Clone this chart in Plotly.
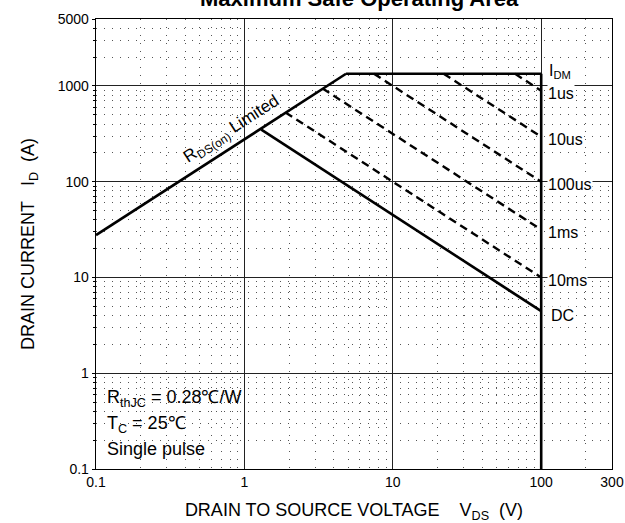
import math
import plotly.graph_objects as go

# ---------------- data ----------------
rds_v = [0.1, 4.84]
rds_i = [27.7, 1340]
idm_v = [4.84, 100]
idm_i = [1340, 1340]
vmax_v = [100, 100]
vmax_i = [1340, 0.1]
dc_v = [1.3, 100]
dc_i = [350, 4.45]

pulse_labels = ["1us", "10us", "100us", "1ms", "10ms"]
pulse_v_start = [66.7, 22.0, 7.46, 3.36, 1.89]
pulse_i_start = [1340, 1340, 1340, 940, 529]
pulse_v_end = [100, 100, 100, 100, 100]
pulse_i_end = [890, 295, 100, 31.6, 10.0]

x_ticks = [0.1, 1, 10, 100, 300]
x_ticktext = ["0.1", "1", "10", "100", "300"]
y_ticks = [0.1, 1, 10, 100, 1000, 5000]
y_ticktext = ["0.1", "1", "10", "100", "1000", "5000"]

info_lines = ["R<sub>thJC</sub> = 0.28\u2103/W", "T<sub>C</sub> = 25\u2103", "Single pulse"]

FONT = "Arial, 'Liberation Sans', sans-serif"
W, H = 625, 523
ML, MR, MT, MB = 96, 13, 19, 54
PW, PH = W - ML - MR, H - MT - MB

fig = go.Figure()

solid = dict(color="black", width=2.6)
dashed = dict(color="black", width=2.4, dash="8px,5px")

for v, i in [(rds_v, rds_i), (idm_v, idm_i), (vmax_v, vmax_i), (dc_v, dc_i)]:
    fig.add_trace(go.Scatter(x=v, y=i, mode="lines", line=solid, hoverinfo="skip"))

for k in range(len(pulse_labels)):
    fig.add_trace(go.Scatter(x=[pulse_v_start[k], pulse_v_end[k]],
                             y=[pulse_i_start[k], pulse_i_end[k]],
                             mode="lines", line=dashed, hoverinfo="skip"))

anns = []
for k, lab in enumerate(pulse_labels):
    anns.append(dict(x=math.log10(pulse_v_end[k]), y=math.log10(pulse_i_end[k]),
                     xref="x", yref="y", text=lab, showarrow=False,
                     xanchor="left", yanchor="middle", xshift=6, yshift=-3,
                     bgcolor="white", borderpad=0,
                     font=dict(family=FONT, size=16, color="black")))
anns.append(dict(x=math.log10(dc_v[-1]), y=math.log10(dc_i[-1]), xref="x", yref="y",
                 text="DC", showarrow=False, xanchor="left", yanchor="middle",
                 xshift=9, yshift=-4, bgcolor="white", borderpad=0,
                 font=dict(family=FONT, size=16, color="black")))
anns.append(dict(x=math.log10(idm_v[-1]), y=math.log10(idm_i[-1]), xref="x", yref="y",
                 text="I<sub>DM</sub>", showarrow=False, xanchor="left", yanchor="middle",
                 xshift=7, yshift=2, bgcolor="white", borderpad=0,
                 font=dict(family=FONT, size=16, color="black")))

xr = [-1, math.log10(300)]
yr = [-1, math.log10(5000)]
px_per_dec_x = PW / (xr[1] - xr[0])
px_per_dec_y = PH / (yr[1] - yr[0])
ang = math.degrees(math.atan(px_per_dec_y / px_per_dec_x))
anns.append(dict(x=math.log10(0.82), y=math.log10(350), xref="x", yref="y",
                 text="R<sub>DS(on)</sub> Limited", showarrow=False, textangle=-ang,
                 font=dict(family=FONT, size=17, color="black")))

for j, (t, py) in enumerate(zip(info_lines, [398, 424, 449])):
    anns.append(dict(x=(105 - ML) / PW, y=1 - (py - MT) / PH, xref="paper", yref="paper",
                     text=t, showarrow=False, xanchor="left", yanchor="middle",
                     font=dict(family=FONT, size=18, color="black")))

anns.append(dict(x=0.51, y=1 + (MT + 2) / PH, xref="paper", yref="paper",
                 text="<b>Maximum Safe Operating Area</b>", showarrow=False,
                 xanchor="center", yanchor="middle",
                 font=dict(family=FONT, size=22, color="black")))

shapes = [dict(type="rect", xref="paper", yref="paper", layer="between",
               x0=2 / PW, x1=(243 - ML) / PW,
               y0=1 - (465 - MT) / PH, y1=1 - (380 - MT) / PH,
               fillcolor="white", line=dict(width=0))]

minor_common = dict(dtick="D1", showgrid=True, gridcolor="#555",
                    griddash="1px,7px", gridwidth=1)

fig.update_xaxes(type="log", range=xr, tickmode="array", tickvals=x_ticks,
                 ticktext=x_ticktext, showgrid=True, gridcolor="#222", gridwidth=1,
                 showline=True, linecolor="black", linewidth=1.3, mirror=True,
                 ticks="", zeroline=False, automargin=False,
                 tickfont=dict(family=FONT, size=14, color="black"),
                 minor=dict(**minor_common),
                 title=dict(text="DRAIN TO SOURCE VOLTAGE\u00a0\u00a0\u00a0\u00a0V<sub>DS</sub>\u00a0\u00a0(V)",
                            font=dict(family=FONT, size=18, color="black"), standoff=21))
fig.update_yaxes(type="log", range=yr, tickmode="array", tickvals=y_ticks,
                 ticktext=y_ticktext, showgrid=True, gridcolor="#222", gridwidth=1,
                 showline=True, linecolor="black", linewidth=1.3, mirror=True,
                 ticks="outside", ticklen=3, tickcolor="black", zeroline=False,
                 automargin=False,
                 tickfont=dict(family=FONT, size=14, color="black"),
                 minor=dict(ticks="outside", ticklen=2, tickcolor="black", **minor_common),
                 title=dict(text="DRAIN CURRENT\u00a0\u00a0\u00a0I<sub>D</sub>\u00a0\u00a0(A)",
                            font=dict(family=FONT, size=18, color="black"), standoff=18))

fig.update_layout(width=W, height=H, margin=dict(l=ML, r=MR, t=MT, b=MB),
                  paper_bgcolor="white", plot_bgcolor="white", showlegend=False,
                  annotations=anns, shapes=shapes)

fig.write_html("out.html", config={"displayModeBar": False, "staticPlot": True},
               post_script="document.body.style.margin='0';document.body.style.overflow='hidden';")
